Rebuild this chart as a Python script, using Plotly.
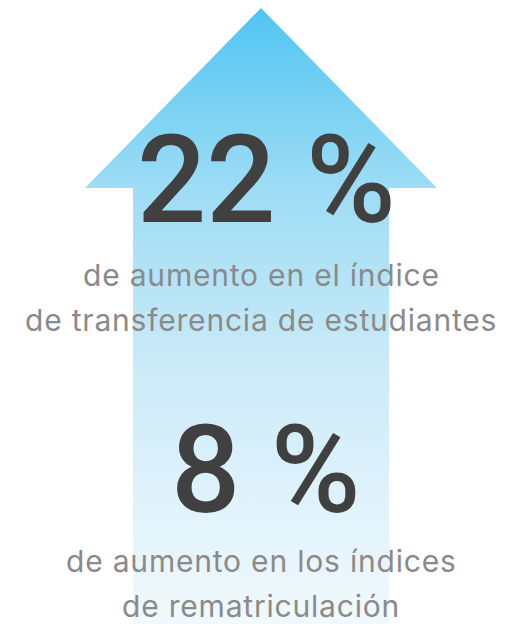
import plotly.graph_objects as go

# figures shown on the arrow
values = [22, 8]
captions = [
    ["de aumento en el índice", "de transferencia de estudiantes"],
    ["de aumento en los índices", "de rematriculación"],
]

W, H = 521, 624

# arrow outline (pixel space, y grows downwards)
cx = 261
tip_y = 8
head_y = 188
head_half = 176
shaft_half = 128

arrow_x = [cx, cx + head_half, cx + shaft_half, cx + shaft_half,
           cx - shaft_half, cx - shaft_half, cx - head_half, cx]
arrow_y = [tip_y, head_y, head_y, H, H, head_y, head_y, tip_y]

fig = go.Figure()
fig.add_trace(
    go.Scatter(
        x=arrow_x,
        y=arrow_y,
        mode="lines",
        line={"width": 0},
        fill="toself",
        fillgradient={
            "type": "vertical",
            "start": 0,
            "stop": H,
            "colorscale": [
                [0.0, "#4cc4f1"],
                [0.3, "#9ddcf5"],
                [0.6, "#cdebf8"],
                [1.0, "#f1f9fd"],
            ],
        },
        hoverinfo="skip",
        showlegend=False,
    )
)

num_y = [180, 470]
cap_y = [[275, 320], [561, 606]]
for v, cap, ny, cys in zip(values, captions, num_y, cap_y):
    fig.add_annotation(
        x=cx + 5, y=ny, text=f"{v} %", showarrow=False,
        font={"family": "Roboto", "size": 122, "color": "#404040", "weight": 500},
        xanchor="center", yanchor="middle",
    )
    for line, ly in zip(cap, cys):
        fig.add_annotation(
            x=cx, y=ly,
            text=f'<span style="letter-spacing:0.8px">{line}</span>',
            showarrow=False,
            font={"family": "Inter", "size": 30, "color": "#8a8a8a"},
            xanchor="center", yanchor="middle",
        )

fig.update_layout(
    width=W,
    height=H,
    margin={"l": 0, "r": 0, "t": 0, "b": 0},
    paper_bgcolor="white",
    plot_bgcolor="white",
    xaxis={"range": [0, W], "visible": False, "fixedrange": True},
    yaxis={"range": [H, 0], "visible": False, "fixedrange": True},
)

fig.write_html(
    "out.html",
    config={"displayModeBar": False},
    post_script="document.body.style.margin = '0';",
)
